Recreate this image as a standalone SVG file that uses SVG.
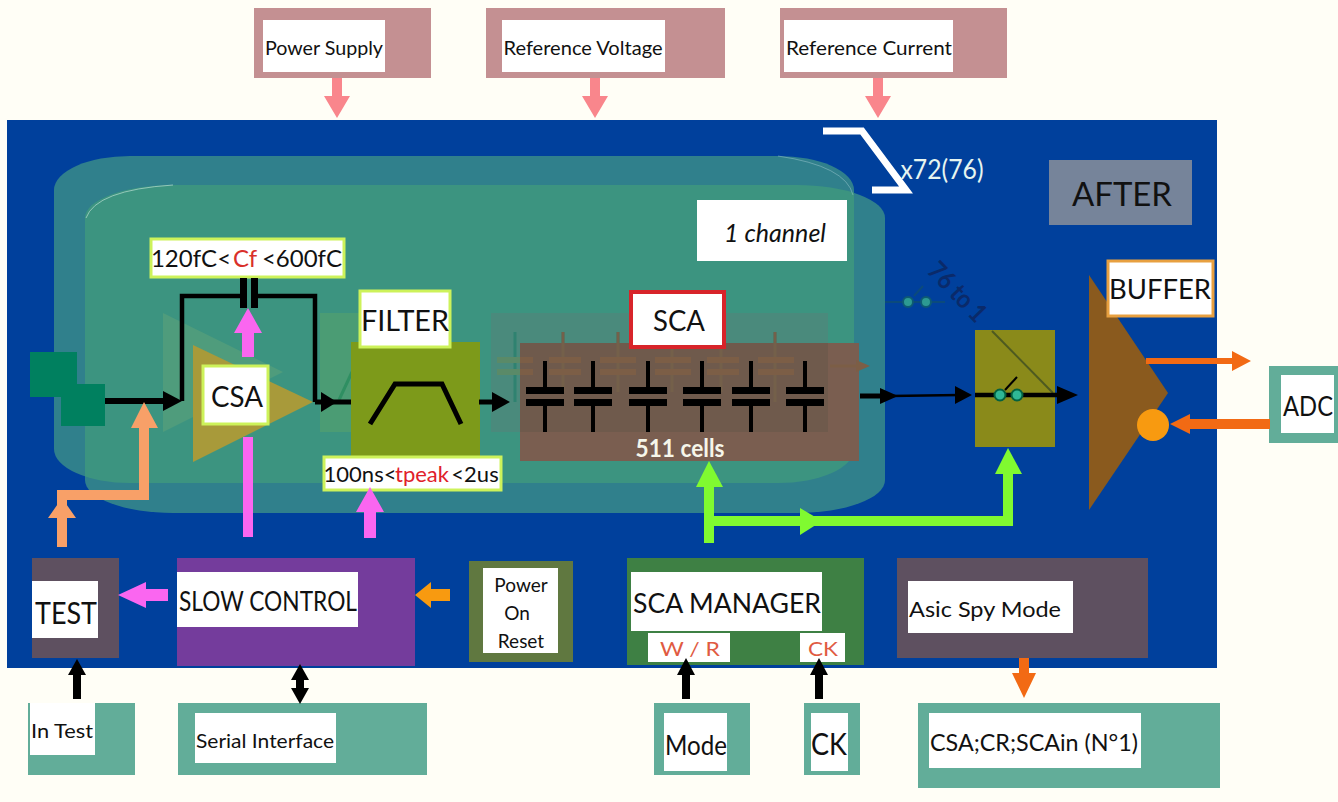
<svg xmlns="http://www.w3.org/2000/svg" width="1338" height="802" viewBox="0 0 1338 802">
<style>
text{font-family:"Lato","Open Sans","Liberation Sans",sans-serif;fill:#111;text-anchor:middle}
.w{fill:#fff}
.glow{fill:#fff;stroke:#cdf25a;stroke-width:3}
.box{fill:#62ad99}
.cap{stroke:#000;stroke-width:4;fill:none}
.plate{fill:#000}
.sw{fill:#2fb795;stroke:#04613f;stroke-width:2}
.blk{fill:#000}
.pink{fill:#fa66f0}
.rose{fill:#f9868c}
.lime{fill:#80fa30}
.org{fill:#f26a14}
.amb{fill:#f89a10}
.tan{fill:#f8a068}
.ghostcap{fill:#7c5e46}
</style>
<defs>
<clipPath id="outerClip"><rect x="54" y="156" width="800" height="327" rx="76" ry="34"/></clipPath>
<g id="capSym">
<path class="cap" d="M0 -35V-8M0 8V36"/>
<rect class="plate" x="-19" y="-9" width="38" height="7"/>
<rect class="plate" x="-19" y="3" width="38" height="7"/>
</g>
</defs>
<rect width="1338" height="802" fill="#fffef6"/>
<rect id="chip" x="7" y="120" width="1210" height="548" fill="#00409c"/>

<g id="channel-shadow">
<rect x="54" y="156" width="800" height="327" rx="76" ry="34" fill="#30808c"/>
<rect x="85" y="185" width="800" height="328" rx="88" ry="33" fill="#30808c"/>
<rect x="85" y="185" width="800" height="328" rx="88" ry="33" fill="#3c9480" clip-path="url(#outerClip)"/>
<path d="M86 218Q96 190 173 185" fill="none" stroke="#b8ddd0" stroke-width="1" opacity="0.7"/>
<path d="M778 156Q846 166 853 195" fill="none" stroke="#9cc8d0" stroke-width="1" opacity="0.5"/>
</g>

<g id="ghost-stage">
<polygon points="163,313 283,372 163,432" fill="#4f9c7c"/>
<rect x="320" y="313" width="60" height="119" fill="#4b9c74"/>
<path d="M339 400L352 372" stroke="#2f8f62" stroke-width="3" fill="none"/>
<rect x="491" y="313" width="337" height="119" fill="#4a8a7c"/>
<path d="M515 332V402M563 332V345M618 332V345M775 332V345" stroke="#2f8270" stroke-width="3" fill="none"/>
<rect x="497" y="357" width="23" height="6" fill="#5a8a68"/><rect x="497" y="369" width="23" height="6" fill="#5a8a68"/>
<path d="M885 302H945" stroke="#0b4a7c" stroke-width="2"/>
<path d="M914 296L923 286" stroke="#0b4a7c" stroke-width="2"/>
<circle cx="908" cy="302" r="5" fill="#2d9a92" stroke="#0d5a74" stroke-width="2"/>
<circle cx="926" cy="302" r="5" fill="#2d9a92" stroke="#0d5a74" stroke-width="2"/>
</g>

<g id="power-supply"><rect x="254" y="8" width="177" height="70" fill="#c49092"/><rect class="w" x="263" y="20" width="122" height="52"/><text x="324" y="55" font-size="20" textLength="118" lengthAdjust="spacingAndGlyphs">Power Supply</text></g>
<g id="reference-voltage"><rect x="486" y="8" width="239" height="70" fill="#c49092"/><rect class="w" x="502" y="20" width="163" height="52"/><text x="583" y="55" font-size="20" textLength="159" lengthAdjust="spacingAndGlyphs">Reference Voltage</text></g>
<g id="reference-current"><rect x="780" y="8" width="227" height="70" fill="#c49092"/><rect class="w" x="784" y="20" width="169" height="52"/><text x="869" y="55" font-size="20" textLength="166" lengthAdjust="spacingAndGlyphs">Reference Current</text></g>

<g id="multiplicity">
<path d="M823 131H862L906 190H872" fill="none" stroke="#fff" stroke-width="7"/>
<text x="942" y="179" font-size="27" style="fill:#e6f5f0" textLength="83" lengthAdjust="spacingAndGlyphs">x72(76)</text>
</g>
<g id="after"><rect x="1049" y="160" width="143" height="65" fill="#76849a"/><text x="1122" y="206" font-size="32" textLength="100" lengthAdjust="spacingAndGlyphs">AFTER</text></g>
<g id="one-channel"><rect class="w" x="697" y="200" width="150" height="61"/><text x="775" y="242" font-size="26" font-style="italic" textLength="102" lengthAdjust="spacingAndGlyphs">1 channel</text></g>

<g id="input-pads"><rect x="30" y="352" width="47" height="45" fill="#00805f"/><rect x="61" y="384" width="44" height="42" fill="#00805f"/></g>

<g id="csa">
<polygon points="193,345 313,402 193,462" fill="#a89a3a"/>
<rect class="glow" x="203" y="366" width="65" height="58"/>
<text x="237" y="407" font-size="28" textLength="52" lengthAdjust="spacingAndGlyphs">CSA</text>
</g>
<g id="feedback-label">
<rect class="glow" x="151" y="239" width="193" height="38"/>
<text x="191" y="267" font-size="24">120fC&lt;</text>
<text x="245" y="267" font-size="24" style="fill:#d9302a">Cf</text>
<text x="302" y="267" font-size="24">&lt;600fC</text>
</g>
<g id="filter">
<rect x="351" y="342" width="129" height="116" fill="#7d9a1a"/>
<path d="M370 424L395 384H442L461 424" fill="none" stroke="#000" stroke-width="5"/>
<rect class="glow" x="360" y="291" width="90" height="56"/>
<text x="405" y="331" font-size="28" textLength="88" lengthAdjust="spacingAndGlyphs">FILTER</text>
</g>
<g id="tpeak-label">
<rect class="glow" x="324" y="457" width="177" height="33"/>
<text x="360" y="482" font-size="22">100ns&lt;</text>
<text x="422" y="482" font-size="22" style="fill:#e0202a">tpeak</text>
<text x="475" y="482" font-size="22">&lt;2us</text>
</g>
<g id="sca">
<rect x="520" y="343" width="339" height="118" fill="#7a5e50"/>
<rect x="520" y="343" width="308" height="89" fill="#6f5a4c"/>
<path d="M563 332V392M618 332V392M672 345V392M721 345V392M775 332V402" stroke="#74604a" stroke-width="3" fill="none"/>
<rect class="ghostcap" x="520" y="357" width="13" height="6"/><rect class="ghostcap" x="520" y="369" width="13" height="6"/>
<rect class="ghostcap" x="549" y="357" width="32" height="6"/><rect class="ghostcap" x="549" y="369" width="32" height="6"/>
<rect class="ghostcap" x="600" y="357" width="36" height="6"/><rect class="ghostcap" x="600" y="369" width="36" height="6"/>
<rect class="ghostcap" x="655" y="357" width="36" height="6"/><rect class="ghostcap" x="655" y="369" width="36" height="6"/>
<rect class="ghostcap" x="707" y="357" width="32" height="6"/><rect class="ghostcap" x="707" y="369" width="32" height="6"/>
<rect class="ghostcap" x="758" y="357" width="36" height="6"/><rect class="ghostcap" x="758" y="369" width="36" height="6"/>
<path d="M830 366H858" stroke="#7c5e46" stroke-width="3"/>
<polygon points="856,360 870,366 856,372" fill="#7c5e46"/>
<use href="#capSym" x="545" y="396"/>
<use href="#capSym" x="593" y="396"/>
<use href="#capSym" x="648" y="396"/>
<use href="#capSym" x="702" y="396"/>
<use href="#capSym" x="751" y="396"/>
<use href="#capSym" x="805" y="396"/>
<rect x="631" y="292" width="93" height="55" fill="#fff" stroke="#d8242a" stroke-width="4"/>
<text x="679" y="331" font-size="28" textLength="52" lengthAdjust="spacingAndGlyphs">SCA</text>
<text x="680" y="457" font-size="25" font-weight="700" style="fill:#f6f6ea" textLength="89" lengthAdjust="spacingAndGlyphs">511 cells</text>
</g>
<g id="mux">
<rect x="975" y="330" width="80" height="117" fill="#8a8a1a"/>
<path d="M992 331L1053 393" stroke="#4e5a20" stroke-width="2" fill="none"/>
<text transform="translate(951 298) rotate(46)" font-size="26" font-weight="700" style="fill:#0a2a6a" textLength="72" lengthAdjust="spacingAndGlyphs">76 to 1</text>
</g>
<g id="buffer">
<polygon points="1089,275 1168,393 1089,510" fill="#8a5a1e"/>
<rect x="1108" y="261" width="105" height="55" fill="#fff" stroke="#e8a040" stroke-width="3"/>
<text x="1160" y="299" font-size="27" textLength="102" lengthAdjust="spacingAndGlyphs">BUFFER</text>
<circle cx="1153" cy="425" r="16" fill="#f89a10"/>
</g>
<g id="adc"><rect class="box" x="1269" y="366" width="69" height="77"/><rect class="w" x="1281" y="375" width="53" height="58"/><text x="1308" y="416" font-size="27" textLength="50" lengthAdjust="spacingAndGlyphs">ADC</text></g>

<g id="test"><rect x="32" y="558" width="87" height="100" fill="#5e5060"/><rect class="w" x="32" y="581" width="66" height="57"/><text x="66" y="624" font-size="30" textLength="62" lengthAdjust="spacingAndGlyphs">TEST</text></g>
<g id="slow-control"><rect x="177" y="558" width="238" height="108" fill="#743c9c"/><rect class="w" x="177" y="572" width="181" height="55"/><text x="268" y="611" font-size="26" textLength="178" lengthAdjust="spacingAndGlyphs">SLOW CONTROL</text></g>
<g id="power-on-reset"><rect x="469" y="561" width="104" height="101" fill="#607840"/><rect class="w" x="483" y="568" width="75" height="85"/><text x="521" y="592" font-size="19">Power</text><text x="517" y="620" font-size="19">On</text><text x="521" y="648" font-size="19">Reset</text></g>
<g id="sca-manager"><rect x="627" y="558" width="237" height="107" fill="#3e8044"/><rect class="w" x="631" y="572" width="191" height="59"/><text x="727" y="613" font-size="27" textLength="188" lengthAdjust="spacingAndGlyphs">SCA MANAGER</text><rect class="w" x="648" y="633" width="82" height="29"/><text x="690" y="656" font-size="20" style="fill:#e05a42" textLength="60" lengthAdjust="spacingAndGlyphs">W / R</text><rect class="w" x="800" y="633" width="45" height="29"/><text x="823" y="656" font-size="20" style="fill:#e05a42" textLength="30" lengthAdjust="spacingAndGlyphs">CK</text></g>
<g id="asic-spy"><rect x="897" y="558" width="251" height="100" fill="#5e5060"/><rect class="w" x="908" y="581" width="165" height="52"/><text x="985" y="617" font-size="22" textLength="152" lengthAdjust="spacingAndGlyphs">Asic Spy Mode</text></g>
<g id="in-test"><rect class="box" x="28" y="703" width="107" height="72"/><rect class="w" x="30" y="703" width="65" height="52"/><text x="62" y="738" font-size="20" textLength="62" lengthAdjust="spacingAndGlyphs">In Test</text></g>
<g id="serial-interface"><rect class="box" x="178" y="703" width="249" height="72"/><rect class="w" x="195" y="713" width="141" height="50"/><text x="265" y="748" font-size="20" textLength="138" lengthAdjust="spacingAndGlyphs">Serial Interface</text></g>
<g id="mode"><rect class="box" x="654" y="703" width="96" height="72"/><rect class="w" x="664" y="713" width="63" height="58"/><text x="696" y="755" font-size="26" textLength="62" lengthAdjust="spacingAndGlyphs">Mode</text></g>
<g id="ck"><rect class="box" x="804" y="703" width="56" height="72"/><rect class="w" x="811" y="713" width="37" height="58"/><text x="829" y="755" font-size="30" textLength="36" lengthAdjust="spacingAndGlyphs">CK</text></g>
<g id="csa-cr-sca"><rect class="box" x="918" y="703" width="302" height="85"/><rect class="w" x="929" y="713" width="212" height="55"/><text x="1034" y="751" font-size="23" textLength="208" lengthAdjust="spacingAndGlyphs">CSA;CR;SCAin (N°1)</text></g>

<g id="connectors">
<polygon class="rose" points="332,78 342,78 342,96 350,96 337,118 324,96 332,96"/>
<polygon class="rose" points="590,78 600,78 600,96 608,96 595,118 582,96 590,96"/>
<polygon class="rose" points="873,78 883,78 883,96 891,96 878,118 865,96 873,96"/>

<path d="M105 401H168" stroke="#000" stroke-width="6" fill="none"/>
<polygon class="blk" points="163,391 182,401 163,411"/>
<path d="M182 401V296H241M257 296H315V402" stroke="#000" stroke-width="4.5" fill="none"/>
<rect class="plate" x="240" y="278" width="7" height="30"/>
<rect class="plate" x="251" y="278" width="7" height="30"/>
<path d="M315 402H351" stroke="#000" stroke-width="5" fill="none"/>
<polygon class="blk" points="321,392 337,402 321,412"/>
<path d="M479 402H497" stroke="#000" stroke-width="5" fill="none"/>
<polygon class="blk" points="492,392 510,402 492,412"/>
<path d="M860 396H890" stroke="#000" stroke-width="5" fill="none"/>
<polygon class="blk" points="880,388 898,396 880,404"/>
<path d="M890 396L960 395" stroke="#000" stroke-width="2.5" fill="none"/>
<polygon class="blk" points="955,386 972,395 955,404"/>
<path d="M975 395H1062" stroke="#000" stroke-width="4.5" fill="none"/>
<polygon class="blk" points="1057,386 1078,395 1057,404"/>
<path d="M1005 390L1017 377" stroke="#000" stroke-width="2" fill="none"/>
<circle class="sw" cx="1000" cy="395" r="5.5"/>
<circle class="sw" cx="1017" cy="395" r="5.5"/>

<polygon class="pink" points="242,333 234,333 248,308 262,333 254,333 254,357 242,357"/>
<rect class="pink" x="243" y="437" width="10" height="100"/>
<polygon class="pink" points="364,512 356,512 370,487 384,512 376,512 376,538 364,538"/>
<polygon class="pink" points="168,589 146,589 146,582 118,595 146,608 146,601 168,601"/>
<polygon class="amb" points="450,589 431,589 431,582 415,595 431,608 431,601 450,601"/>

<polygon class="tan" points="57,547 57,518 48,518 62,498 76,518 67,518 67,547"/>
<polygon class="tan" points="57,518 57,490 139,490 139,428 131,428 144,402 158,428 149,428 149,500 67,500 67,518"/>

<path d="M709 543V480M709 521H1008V470" fill="none" stroke="#80fa30" stroke-width="10"/>
<polygon class="lime" points="696,487 709,461 723,487"/>
<polygon class="lime" points="800,508 822,521 800,535"/>
<polygon class="lime" points="995,474 1008,448 1022,474"/>

<polygon class="org" points="1146,358 1232,358 1232,351 1251,361 1232,371 1232,364 1146,364"/>
<polygon class="org" points="1270,419 1190,419 1190,414 1170,424 1190,434 1190,429 1270,429"/>

<polygon class="blk" points="73,699 73,675 68,675 77,659 86,675 81,675 81,699"/>
<polygon class="blk" points="296,680 291,680 300,664 309,680 304,680 304,688 309,688 300,704 291,688 296,688"/>
<polygon class="blk" points="682,699 682,675 677,675 686,658 695,675 690,675 690,699"/>
<polygon class="blk" points="815,699 815,675 810,675 819,658 828,675 823,675 823,699"/>
<polygon class="org" points="1019,658 1029,658 1029,673 1036,673 1024,698 1012,673 1019,673"/>
</g>
</svg>
